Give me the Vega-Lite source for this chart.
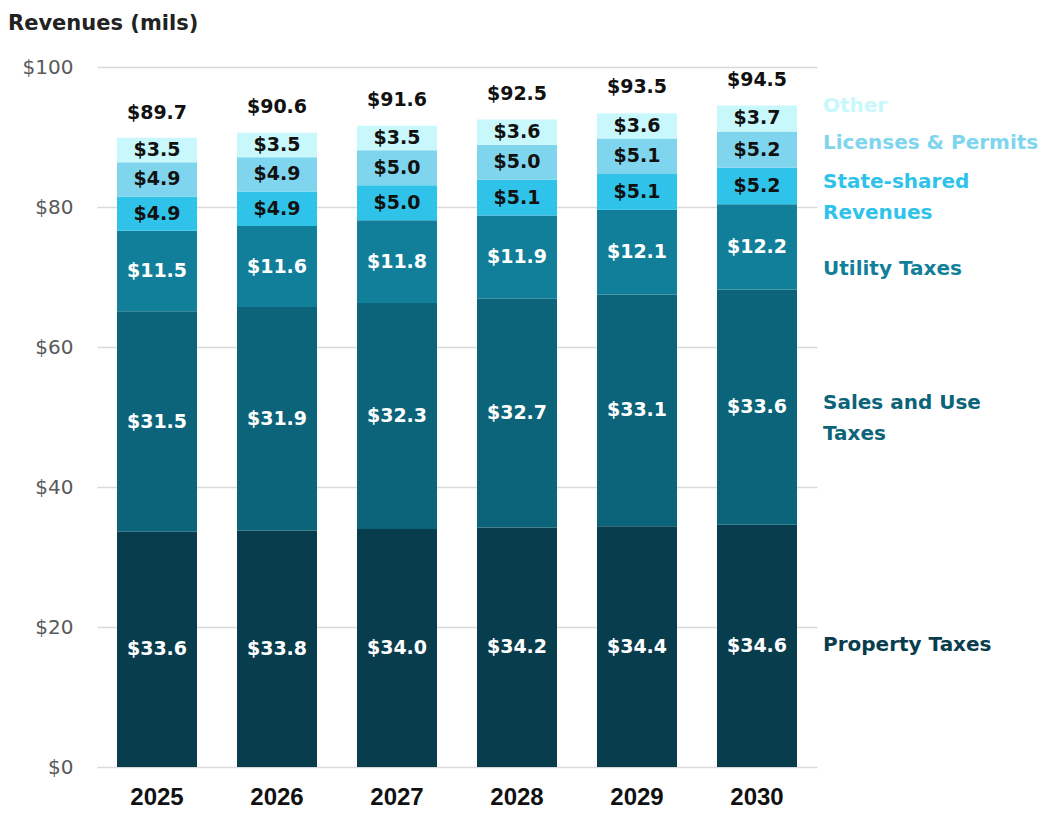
{
  "$schema": "https://vega.github.io/schema/vega-lite/v6.json",
  "width": 720,
  "height": 700,
  "autosize": {"type": "none"},
  "padding": {"left": 97, "top": 67, "right": 235, "bottom": 48},
  "background": "white",
  "title": {"text": "Revenues (mils)", "anchor": "start", "frame": "group", "dx": -89, "offset": 23, "fontSize": 21, "font": "DejaVu Sans", "fontWeight": "bold", "color": "#222222"},
  "config": {"view": {"stroke": null}, "font": "DejaVu Sans"},
  "datasets": {
    "rev": [
      {"year": "2025", "category": "Property Taxes", "idx": 1, "value": 33.6},
      {"year": "2025", "category": "Sales and Use Taxes", "idx": 2, "value": 31.5},
      {"year": "2025", "category": "Utility Taxes", "idx": 3, "value": 11.5},
      {"year": "2025", "category": "State-shared Revenues", "idx": 4, "value": 4.9},
      {"year": "2025", "category": "Licenses & Permits", "idx": 5, "value": 4.9},
      {"year": "2025", "category": "Other", "idx": 6, "value": 3.5},
      {"year": "2026", "category": "Property Taxes", "idx": 1, "value": 33.8},
      {"year": "2026", "category": "Sales and Use Taxes", "idx": 2, "value": 31.9},
      {"year": "2026", "category": "Utility Taxes", "idx": 3, "value": 11.6},
      {"year": "2026", "category": "State-shared Revenues", "idx": 4, "value": 4.9},
      {"year": "2026", "category": "Licenses & Permits", "idx": 5, "value": 4.9},
      {"year": "2026", "category": "Other", "idx": 6, "value": 3.5},
      {"year": "2027", "category": "Property Taxes", "idx": 1, "value": 34.0},
      {"year": "2027", "category": "Sales and Use Taxes", "idx": 2, "value": 32.3},
      {"year": "2027", "category": "Utility Taxes", "idx": 3, "value": 11.8},
      {"year": "2027", "category": "State-shared Revenues", "idx": 4, "value": 5.0},
      {"year": "2027", "category": "Licenses & Permits", "idx": 5, "value": 5.0},
      {"year": "2027", "category": "Other", "idx": 6, "value": 3.5},
      {"year": "2028", "category": "Property Taxes", "idx": 1, "value": 34.2},
      {"year": "2028", "category": "Sales and Use Taxes", "idx": 2, "value": 32.7},
      {"year": "2028", "category": "Utility Taxes", "idx": 3, "value": 11.9},
      {"year": "2028", "category": "State-shared Revenues", "idx": 4, "value": 5.1},
      {"year": "2028", "category": "Licenses & Permits", "idx": 5, "value": 5.0},
      {"year": "2028", "category": "Other", "idx": 6, "value": 3.6},
      {"year": "2029", "category": "Property Taxes", "idx": 1, "value": 34.4},
      {"year": "2029", "category": "Sales and Use Taxes", "idx": 2, "value": 33.1},
      {"year": "2029", "category": "Utility Taxes", "idx": 3, "value": 12.1},
      {"year": "2029", "category": "State-shared Revenues", "idx": 4, "value": 5.1},
      {"year": "2029", "category": "Licenses & Permits", "idx": 5, "value": 5.1},
      {"year": "2029", "category": "Other", "idx": 6, "value": 3.6},
      {"year": "2030", "category": "Property Taxes", "idx": 1, "value": 34.6},
      {"year": "2030", "category": "Sales and Use Taxes", "idx": 2, "value": 33.6},
      {"year": "2030", "category": "Utility Taxes", "idx": 3, "value": 12.2},
      {"year": "2030", "category": "State-shared Revenues", "idx": 4, "value": 5.2},
      {"year": "2030", "category": "Licenses & Permits", "idx": 5, "value": 5.2},
      {"year": "2030", "category": "Other", "idx": 6, "value": 3.7}
    ],
    "totals": [
      {"year": "2025", "total": 89.7},
      {"year": "2026", "total": 90.6},
      {"year": "2027", "total": 91.6},
      {"year": "2028", "total": 92.5},
      {"year": "2029", "total": 93.5},
      {"year": "2030", "total": 94.5}
    ],
    "one": [{}]
  },
  "resolve": {"scale": {"color": "shared"}},
  "layer": [
    {
      "data": {"name": "rev"},
      "mark": {"type": "bar"},
      "encoding": {
        "x": {"field": "year", "type": "ordinal", "scale": {"paddingInner": 0.3333, "paddingOuter": 0.1667},
          "axis": {"title": null, "domain": false, "ticks": false, "labelAngle": 0, "labelFont": "Liberation Sans", "labelFontWeight": "bold", "labelFontSize": 24, "labelColor": "#111111", "labelPadding": 18}},
        "y": {"field": "value", "type": "quantitative", "stack": "zero", "scale": {"domain": [0, 100], "nice": false},
          "axis": {"title": null, "values": [0, 20, 40, 60, 80, 100], "format": "$.0f", "domain": false, "ticks": false, "labelFontSize": 20, "labelColor": "#595959", "labelFont": "DejaVu Sans", "labelPadding": 24, "gridColor": "#d9d9d9", "gridWidth": 1.5}},
        "order": {"field": "idx", "type": "quantitative"},
        "color": {"field": "category", "type": "nominal", "legend": null,
          "scale": {"domain": ["Property Taxes", "Sales and Use Taxes", "Utility Taxes", "State-shared Revenues", "Licenses & Permits", "Other"],
            "range": ["#083d4e", "#0b6479", "#127f9a", "#2fc3ea", "#80d5ee", "#c8f8fc"]}}
      }
    },
    {
      "data": {"name": "rev"},
      "transform": [
        {"stack": "value", "groupby": ["year"], "sort": [{"field": "idx"}], "as": ["y0", "y1"]},
        {"calculate": "(datum.y0 + datum.y1) / 2", "as": "ymid"}
      ],
      "mark": {"type": "text", "fontSize": 19, "fontWeight": "bold", "baseline": "middle", "align": "center"},
      "encoding": {
        "x": {"field": "year", "type": "ordinal"},
        "y": {"field": "ymid", "type": "quantitative"},
        "text": {"field": "value", "type": "quantitative", "format": "$.1f"},
        "color": {"condition": {"test": "datum.idx <= 3", "value": "#ffffff"}, "value": "#111111"}
      }
    },
    {
      "data": {"name": "totals"},
      "mark": {"type": "text", "fontSize": 19, "fontWeight": "bold", "baseline": "middle", "align": "center", "dy": -26, "color": "#111111"},
      "encoding": {
        "x": {"field": "year", "type": "ordinal"},
        "y": {"field": "total", "type": "quantitative"},
        "text": {"field": "total", "type": "quantitative", "format": "$.1f"}
      }
    },
    {
      "data": {"name": "one"},
      "mark": {"type": "text", "fontSize": 20, "fontWeight": "bold", "align": "left", "baseline": "middle", "dx": 66, "lineHeight": 31},
      "encoding": {"x": {"datum": "2030", "type": "ordinal"}, "y": {"datum": 94.4, "type": "quantitative"}, "text": {"value": "Other"}, "color": {"datum": "Other", "type": "nominal"}}
    },
    {
      "data": {"name": "one"},
      "mark": {"type": "text", "fontSize": 20, "fontWeight": "bold", "align": "left", "baseline": "middle", "dx": 66, "lineHeight": 31},
      "encoding": {"x": {"datum": "2030", "type": "ordinal"}, "y": {"datum": 89.1, "type": "quantitative"}, "text": {"value": "Licenses & Permits"}, "color": {"datum": "Licenses & Permits", "type": "nominal"}}
    },
    {
      "data": {"name": "one"},
      "mark": {"type": "text", "fontSize": 20, "fontWeight": "bold", "align": "left", "baseline": "middle", "dx": 66, "lineHeight": 31},
      "encoding": {"x": {"datum": "2030", "type": "ordinal"}, "y": {"datum": 83.6, "type": "quantitative"}, "text": {"value": ["State-shared", "Revenues"]}, "color": {"datum": "State-shared Revenues", "type": "nominal"}}
    },
    {
      "data": {"name": "one"},
      "mark": {"type": "text", "fontSize": 20, "fontWeight": "bold", "align": "left", "baseline": "middle", "dx": 66, "lineHeight": 31},
      "encoding": {"x": {"datum": "2030", "type": "ordinal"}, "y": {"datum": 71.1, "type": "quantitative"}, "text": {"value": "Utility Taxes"}, "color": {"datum": "Utility Taxes", "type": "nominal"}}
    },
    {
      "data": {"name": "one"},
      "mark": {"type": "text", "fontSize": 20, "fontWeight": "bold", "align": "left", "baseline": "middle", "dx": 66, "lineHeight": 31},
      "encoding": {"x": {"datum": "2030", "type": "ordinal"}, "y": {"datum": 52.0, "type": "quantitative"}, "text": {"value": ["Sales and Use", "Taxes"]}, "color": {"datum": "Sales and Use Taxes", "type": "nominal"}}
    },
    {
      "data": {"name": "one"},
      "mark": {"type": "text", "fontSize": 20, "fontWeight": "bold", "align": "left", "baseline": "middle", "dx": 66, "lineHeight": 31},
      "encoding": {"x": {"datum": "2030", "type": "ordinal"}, "y": {"datum": 17.4, "type": "quantitative"}, "text": {"value": "Property Taxes"}, "color": {"datum": "Property Taxes", "type": "nominal"}}
    }
  ]
}
